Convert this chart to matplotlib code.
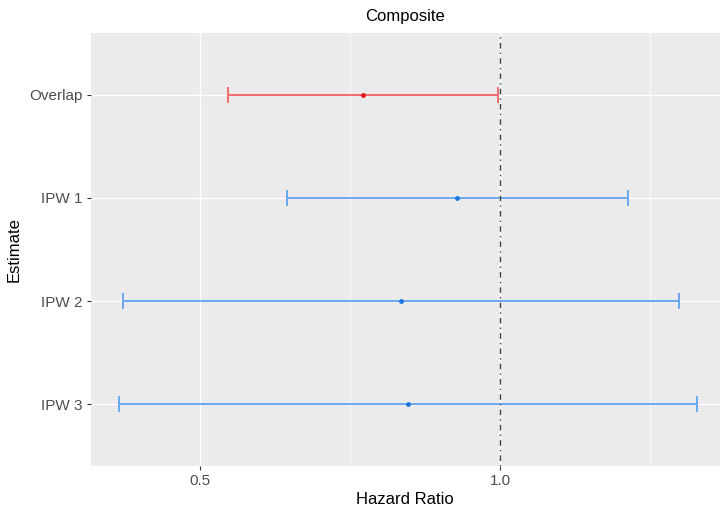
import numpy as np
import matplotlib
matplotlib.use("Agg")
import matplotlib.pyplot as plt

plt.rcParams["font.family"] = ["Liberation Sans", "DejaVu Sans"]

# estimates (top to bottom)
labels = ["Overlap", "IPW 1", "IPW 2", "IPW 3"]
hr = [0.771, 0.929, 0.835, 0.847]
lower = [0.546, 0.645, 0.371, 0.365]
upper = [0.997, 1.214, 1.298, 1.329]
groups = ["overlap", "ipw", "ipw", "ipw"]

line_col = {"overlap": "#F26B6E", "ipw": "#6AA8EE"}
point_col = {"overlap": "#E6141C", "ipw": "#1A76E0"}

fig = plt.figure(figsize=(7.2, 5.07), dpi=100)
ax = fig.add_axes([90.7 / 720, 1 - 466 / 507, 1 - 90.7 / 720, (466 - 33) / 507])
ax.set_facecolor("#EBEBEB")

ypos = np.arange(len(labels))[::-1]
for y, h, lo, hi, g in zip(ypos, hr, lower, upper, groups):
    ax.errorbar(h, y, xerr=[[h - lo], [hi - h]], fmt="none", ecolor=line_col[g],
                elinewidth=1.4, capsize=6, capthick=1.4, zorder=3)
    ax.plot(h, y, "o", color=point_col[g], ms=3.5, mec="none", zorder=4)

# reference line at HR = 1 (ggplot "dotdash")
ax.axvline(1.0, color="#444444", lw=1.0, ls=(0, (1, 3, 4, 3)), zorder=5)

ax.set_xlim(0.317, 1.367)
ax.set_ylim(-0.6, len(labels) - 0.4)
ax.set_xticks([0.5, 1.0])
ax.set_xticklabels(["0.5", "1.0"])
ax.set_xticks([0.75, 1.25], minor=True)
ax.set_yticks(ypos)
ax.set_yticklabels(labels)

ax.grid(True, which="major", color="white", lw=1.0, zorder=0)
ax.grid(True, which="minor", axis="x", color="white", lw=0.45, zorder=0)
ax.set_axisbelow(True)
for s in ax.spines.values():
    s.set_visible(False)
ax.tick_params(which="major", length=3, width=0.8, color="#333333",
               labelcolor="#4D4D4D", labelsize=11, pad=3)
ax.tick_params(which="minor", length=0)

ax.set_xlabel("Hazard Ratio", fontsize=12, color="black", labelpad=3)
ax.set_ylabel("Estimate", fontsize=12, color="black", labelpad=5)
ax.set_title("Composite", fontsize=12, color="black", pad=9)

fig.savefig("out.png", dpi=100, facecolor="white")
